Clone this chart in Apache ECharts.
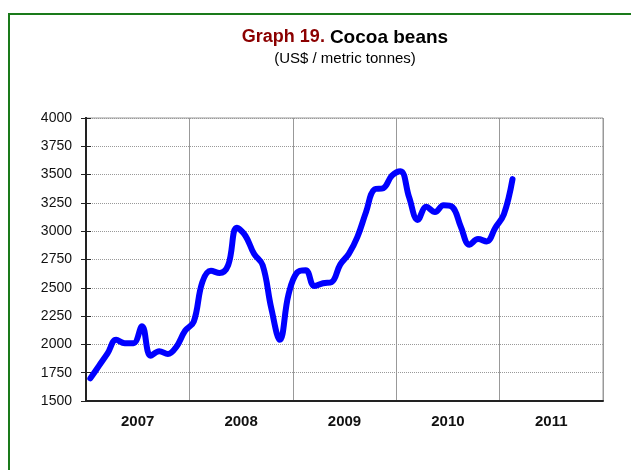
<!DOCTYPE html>
<html>
<head>
<meta charset="utf-8">
<script src="https://cdn.jsdelivr.net/npm/echarts@6/dist/echarts.min.js"></script>
<style>
  html, body { margin: 0; padding: 0; background: #fff; overflow: hidden; }
  #frame { position: absolute; left: 8px; top: 13px; width: 640px; height: 480px; border: 2px solid #1a7a1a; box-sizing: border-box; }
  #chart { position: absolute; left: 0; top: 0; width: 631px; height: 470px; }
</style>
</head>
<body>
<div id="frame"></div>
<div id="chart"></div>
<script>
// monthly cocoa bean prices, Jan 2007 - Feb 2011
const years = ['2007', '2008', '2009', '2010', '2011'];
const prices2007 = [1700, 1810, 1920, 2040, 2010, 2010, 2160, 1900, 1940, 1915, 1980, 2120];
const prices2008 = [2200, 2550, 2650, 2630, 2700, 3030, 2960, 2800, 2700, 2320, 2040, 2440];
const prices2009 = [2635, 2655, 2515, 2540, 2550, 2705, 2800, 2950, 3170, 3370, 3380, 3490];
const prices2010 = [3530, 3300, 3100, 3215, 3170, 3230, 3215, 3040, 2880, 2930, 2910, 3030];
const prices2011 = [3150, 3460];
const yTicks = { min: 1500, max: 4000, step: 250 };

const months = [];
years.forEach(y => { for (let m = 1; m <= 12; m++) months.push(y + '-' + String(m).padStart(2, '0')); });
const prices = [].concat(prices2007, prices2008, prices2009, prices2010, prices2011);

const font = 'Liberation Sans, Arial, sans-serif';
const chart = echarts.init(document.getElementById('chart'));

chart.setOption({
  animation: false,
  title: {
    left: 340,
    textAlign: 'center',
    top: 23,
    itemGap: 4,
    text: '{a|Graph 19.} {b|Cocoa beans}',
    textStyle: {
      rich: {
        a: { color: '#8b0000', fontSize: 18, fontWeight: 'bold', fontFamily: font },
        b: { color: '#000', fontSize: 19, fontWeight: 'bold', fontFamily: font },
      },
    },
    subtext: '(US$ / metric tonnes)',
    subtextStyle: { color: '#000', fontSize: 15, fontFamily: font },
  },
  grid: { left: 86, right: 28, top: 118, bottom: 69, show: true, borderColor: '#999', borderWidth: 1 },
  xAxis: [
    { type: 'category', data: months, show: false, boundaryGap: true },
    {
      type: 'category',
      data: years,
      position: 'bottom',
      boundaryGap: true,
      axisLine: { lineStyle: { color: '#222', width: 2 } },
      axisTick: { length: 6, lineStyle: { color: '#222' } },
      axisLabel: { color: '#111', fontSize: 15, fontWeight: 'bold', fontFamily: font, margin: 13 },
      splitLine: { show: true, lineStyle: { color: '#999', width: 1 } },
    },
  ],
  yAxis: [
    {
      type: 'value',
      min: yTicks.min, max: yTicks.max, interval: yTicks.step,
      axisLine: { show: true, lineStyle: { color: '#222', width: 2 } },
      axisTick: { show: true, length: 5, lineStyle: { color: '#222' } },
      axisLabel: { color: '#111', fontSize: 14, fontFamily: font, margin: 14, formatter: v => String(v) },
      splitLine: { lineStyle: { color: '#999', type: 'dotted' } },
    },
    {
      type: 'value',
      position: 'left',
      offset: 0,
      min: yTicks.min, max: yTicks.max, interval: yTicks.step,
      axisLine: { show: true, onZero: false, lineStyle: { color: '#222', width: 2 } },
      axisTick: { show: true, inside: true, length: 5, lineStyle: { color: '#222', width: 1 } },
      axisLabel: { show: false },
      splitLine: { show: false },
    },
  ],
  series: [{
    type: 'line',
    xAxisIndex: 0,
    yAxisIndex: 0,
    data: prices,
    smooth: 0.4,
    symbol: 'none',
    lineStyle: { color: '#0000ff', width: 6, cap: 'round', join: 'round' },
  }],
});
</script>
</body>
</html>
